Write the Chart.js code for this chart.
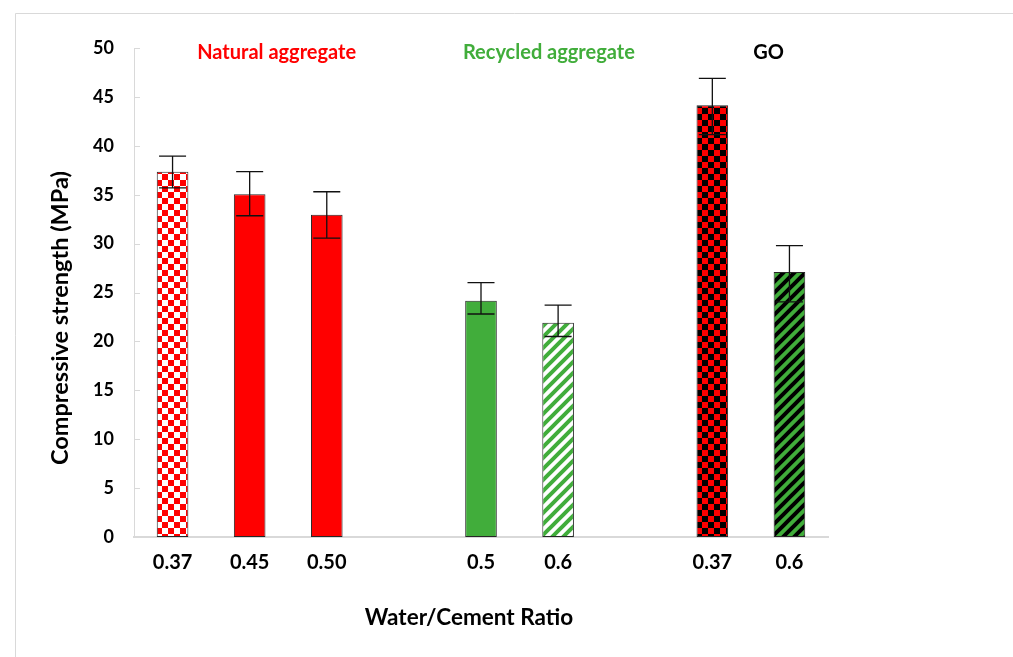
<!DOCTYPE html>
<html>
<head>
<meta charset="utf-8">
<script src="https://cdn.jsdelivr.net/npm/chart.js@4.4.1/dist/chart.umd.min.js"></script>
<style>
  html, body { margin: 0; padding: 0; background: #ffffff; }
  #wrap { position: relative; width: 1013px; height: 657px; }
</style>
</head>
<body>
<div id="wrap"><canvas id="c" width="1013" height="657"></canvas></div>
<script>
// Water/cement ratios (empty slots separate the three groups)
const categories = ['0.37', '0.45', '0.50', '', '0.5', '0.6', '', '0.37', '0.6'];
// Mean compressive strength, MPa
const strength = [37.35, 35.05, 32.95, null, 24.15, 21.9, null, 44.15, 27.1];
// Error bar extents above / below the mean, MPa
const errUp = [1.6, 2.3, 2.35, null, 1.85, 1.8, null, 2.75, 2.7];
const errDown = [1.65, 2.2, 2.4, null, 1.35, 1.4, null, 3.0, 3.05];
// Group headings and their position along the category axis
const groupLabels = ['Natural aggregate', 'Recycled aggregate', 'GO'];
const groupPos = [1.35, 4.88, 7.73];
const groupColors = ['#ff0000', '#41ad3b', '#000000'];
const yTicks = [0, 5, 10, 15, 20, 25, 30, 35, 40, 45, 50];

const RED = '#ff0000';
const GREEN = '#41ad3b';
const FONT = 'Lato, "Open Sans", "DejaVu Sans", sans-serif';

function checker(c1, c2, cell) {
  const t = document.createElement('canvas');
  t.width = t.height = cell * 2;
  const g = t.getContext('2d');
  g.fillStyle = c1; g.fillRect(0, 0, cell * 2, cell * 2);
  g.fillStyle = c2;
  g.fillRect(0, 0, cell, cell);
  g.fillRect(cell, cell, cell, cell);
  return g.createPattern(t, 'repeat');
}

function stripes(bg, fg, s, w) {
  const t = document.createElement('canvas');
  t.width = t.height = s;
  const g = t.getContext('2d');
  g.fillStyle = bg; g.fillRect(0, 0, s, s);
  g.strokeStyle = fg; g.lineWidth = w; g.lineCap = 'square';
  g.beginPath();
  g.moveTo(0, s); g.lineTo(s, 0);
  g.moveTo(-s / 2, s / 2); g.lineTo(s / 2, -s / 2);
  g.moveTo(s / 2, s * 1.5); g.lineTo(s * 1.5, s / 2);
  g.stroke();
  return g.createPattern(t, 'repeat');
}

const fills = [
  checker('#ffffff', RED, 6),
  RED,
  RED,
  null,
  GREEN,
  stripes('#ffffff', GREEN, 11, 4),
  null,
  checker('#000000', RED, 6),
  stripes(GREEN, '#000000', 11, 4)
];

// light frame around the figure
const framePlugin = {
  id: 'frame',
  beforeDraw(chart) {
    const ctx = chart.ctx;
    ctx.save();
    ctx.fillStyle = '#ffffff';
    ctx.fillRect(0, 0, chart.width, chart.height);
    ctx.strokeStyle = '#d9d9d9';
    ctx.lineWidth = 1;
    ctx.beginPath();
    ctx.moveTo(15.5, chart.height);
    ctx.lineTo(15.5, 13.5);
    ctx.lineTo(chart.width, 13.5);
    ctx.stroke();
    ctx.restore();
  }
};

// inside tick marks on the value axis
const innerTicks = {
  id: 'innerTicks',
  afterDraw(chart) {
    const y = chart.scales.y;
    const ctx = chart.ctx;
    ctx.save();
    ctx.strokeStyle = '#d9d9d9';
    ctx.lineWidth = 1;
    ctx.beginPath();
    y.ticks.forEach(t => {
      const py = Math.round(y.getPixelForValue(t.value)) + 0.5;
      ctx.moveTo(y.right, py);
      ctx.lineTo(y.right + 6, py);
    });
    ctx.stroke();
    ctx.restore();
  }
};

// error bars with caps
const errorBars = {
  id: 'errorBars',
  afterDatasetsDraw(chart) {
    const meta = chart.getDatasetMeta(0);
    const y = chart.scales.y;
    const ctx = chart.ctx;
    ctx.save();
    ctx.strokeStyle = '#111111';
    ctx.lineWidth = 1.3;
    meta.data.forEach((bar, i) => {
      const v = strength[i];
      if (v === null) return;
      const x = bar.x;
      const top = y.getPixelForValue(v + errUp[i]);
      const bot = y.getPixelForValue(v - errDown[i]);
      const cap = 13.5;
      ctx.beginPath();
      ctx.moveTo(x, top); ctx.lineTo(x, bot);
      ctx.moveTo(x - cap, top); ctx.lineTo(x + cap, top);
      ctx.moveTo(x - cap, bot); ctx.lineTo(x + cap, bot);
      ctx.stroke();
    });
    ctx.restore();
  }
};

// group headings and the two axis titles
const annotations = {
  id: 'annotations',
  afterDraw(chart) {
    const { x, y } = chart.scales;
    const ctx = chart.ctx;
    ctx.save();
    ctx.font = 'bold 20px ' + FONT;
    ctx.textAlign = 'center';
    ctx.textBaseline = 'middle';
    groupLabels.forEach((txt, i) => {
      ctx.fillStyle = groupColors[i];
      ctx.fillText(txt, x.getPixelForValue(groupPos[i]), y.getPixelForValue(49.5));
    });
    ctx.fillStyle = '#000000';
    ctx.font = 'bold 22.5px ' + FONT;
    ctx.fillText('Water/Cement Ratio', 469, 618);
    ctx.font = 'bold 23.5px ' + FONT;
    ctx.translate(60, 318);
    ctx.rotate(-Math.PI / 2);
    ctx.fillText('Compressive strength (MPa)', 0, 0);
    ctx.restore();
  }
};

new Chart(document.getElementById('c'), {
  type: 'bar',
  data: {
    labels: categories,
    datasets: [{
      data: strength,
      backgroundColor: fills,
      borderColor: '#262626',
      borderWidth: 1,
      borderSkipped: false,
      categoryPercentage: 1,
      barPercentage: 0.41
    }]
  },
  options: {
    responsive: false,
    animation: false,
    devicePixelRatio: 1,
    layout: { padding: { top: 48, right: 185, bottom: 0, left: 0 } },
    plugins: { legend: { display: false }, tooltip: { enabled: false } },
    scales: {
      x: {
        grid: { display: false, drawTicks: false },
        border: { display: true, color: '#d9d9d9', width: 2 },
        ticks: {
          color: '#000000',
          font: { family: FONT, size: 20, weight: 'bold' },
          padding: 14,
          autoSkip: false,
          maxRotation: 0
        },
        afterFit(s) { s.height = 120; }
      },
      y: {
        min: 0,
        max: 50,
        afterBuildTicks(s) { s.ticks = yTicks.map(v => ({ value: v })); },
        grid: { display: false, drawTicks: false },
        border: { display: true, color: '#d9d9d9', width: 1 },
        ticks: {
          color: '#000000',
          font: { family: FONT, size: 18, weight: 'bold' },
          padding: 20
        },
        afterFit(s) { s.width = 134; }
      }
    }
  },
  plugins: [framePlugin, innerTicks, errorBars, annotations]
});
</script>
</body>
</html>
